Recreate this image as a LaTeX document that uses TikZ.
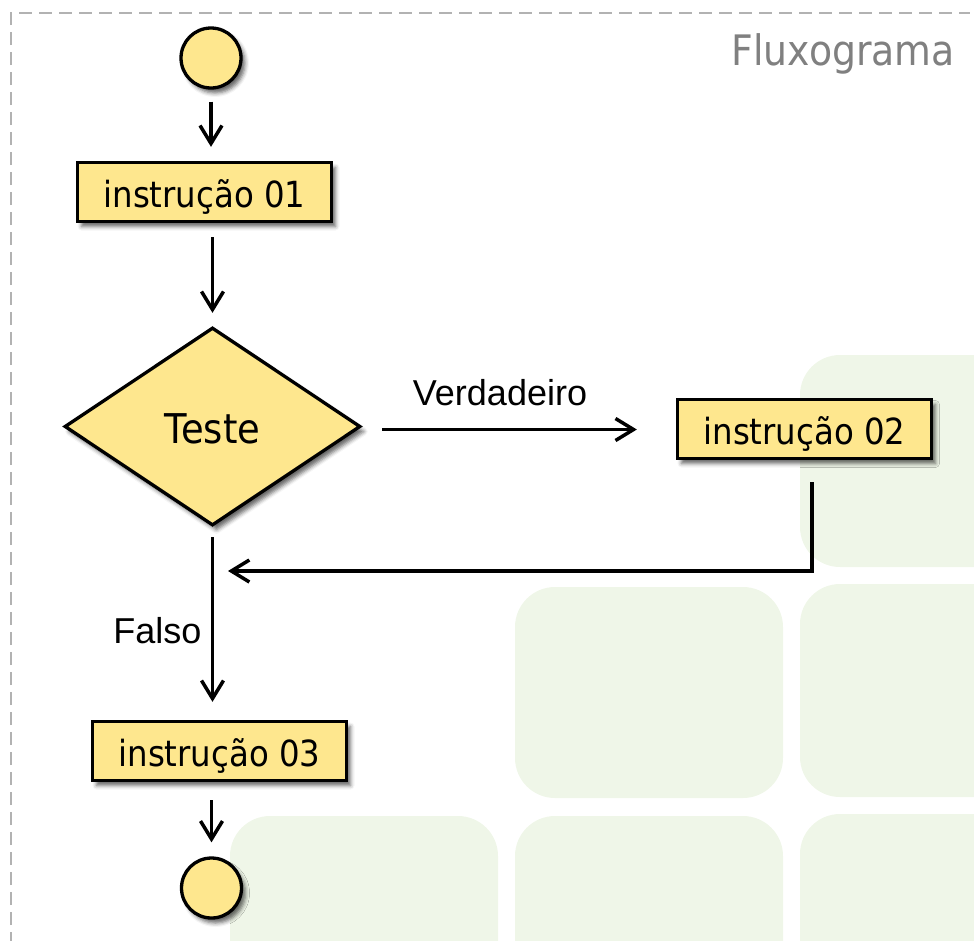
\documentclass[tikz,border=0pt]{standalone}
\usepackage{fontspec}
\newfontfamily\tahoma[FakeStretch=0.9]{DejaVu Sans}
\newfontfamily\arialf{Liberation Sans}
\usetikzlibrary{shapes.geometric,arrows.meta,shadows.blur}
\definecolor{nodefill}{RGB}{254,231,142}
\definecolor{bggreen}{RGB}{239,246,232}
\definecolor{framegray}{RGB}{178,178,178}
\definecolor{titlegray}{RGB}{128,128,128}
\tikzset{
  base/.style={draw=black, line width=3.3pt, fill=nodefill, inner sep=0pt,
    blur shadow={shadow xshift=4pt, shadow yshift=-5pt, shadow blur radius=4pt, shadow opacity=60}},
  instr/.style={base, rectangle, minimum width=254pt, minimum height=59pt,
    text height=30pt, text depth=0pt, font=\tahoma\fontsize{36}{40}\selectfont},
  term/.style={base, circle, minimum size=60pt},
  decision/.style={base, diamond, aspect=1.5, minimum width=296pt, minimum height=198pt,
    text height=33pt, text depth=0pt, font=\tahoma\fontsize{41}{45}\selectfont},
  flow/.style={line width=3.5pt, -{Straight Barb[length=18pt,width=22pt]}},
  lbl/.style={font=\arialf\fontsize{36}{40}\selectfont, inner sep=0pt},
  tile/.style={fill=bggreen, rounded corners=40pt},
}
\begin{document}
\begin{tikzpicture}[x=1pt,y=-1pt]
\useasboundingbox (0,0) rectangle (974,940);
\begin{scope}
  \clip (0,0) rectangle (974,940);
  \fill[tile] (800,355) rectangle (1030,567);
  \fill[tile] (515,587) rectangle (783,798);
  \fill[tile] (800,584) rectangle (1030,797);
  \fill[tile] (230,816) rectangle (498,1030);
  \fill[tile] (515,816) rectangle (783,1030);
  \fill[tile] (800,814) rectangle (1030,1030);
\end{scope}
\draw[framegray, line width=2pt, dash pattern=on 13pt off 7pt] (11,945) -- (11,13) -- (970,13);
\node[anchor=base east, text=titlegray, font=\tahoma\fontsize{42}{46}\selectfont, inner sep=0pt] (title) at (955,65) {Fluxograma};

\node[term] (inicio) at (211,58) {};
\node[instr] (i1) at (204.5,192) {instrução 01};
\node[decision] (teste) at (212.5,426.5) {Teste};
\node[instr] (i2) at (804.5,429) {instrução 02};
\node[instr] (i3) at (219.5,751) {instrução 03};
\node[term] (fim) at (211.5,888) {};
\coordinate (retorno) at (212,571);
\coordinate (vstart) at ([yshift=-3pt]teste.east);

\draw[flow, shorten <=12pt, shorten >=14pt] (inicio.south) -- (inicio.south |- i1.north);
\draw[flow, shorten <=14pt, shorten >=13pt] (teste.north |- i1.south) -- (teste.north);
\draw[flow, shorten <=20pt, shorten >=39pt] (vstart) -- (vstart -| i2.west);
\node[lbl, anchor=base] (verdadeiro) at (500,405) {Verdadeiro};
\draw[flow, shorten <=22pt, shorten >=16pt] ([xshift=7.5pt]i2.south) |- (retorno);
\draw[flow, shorten <=10pt, shorten >=18pt] (teste.south) -- (teste.south |- i3.north);
\node[lbl, anchor=base] (falso) at (157.5,643) {Falso};
\draw[flow, shorten <=18pt, shorten >=14pt] (fim.north |- i3.south) -- (fim.north);
\end{tikzpicture}
\end{document}
